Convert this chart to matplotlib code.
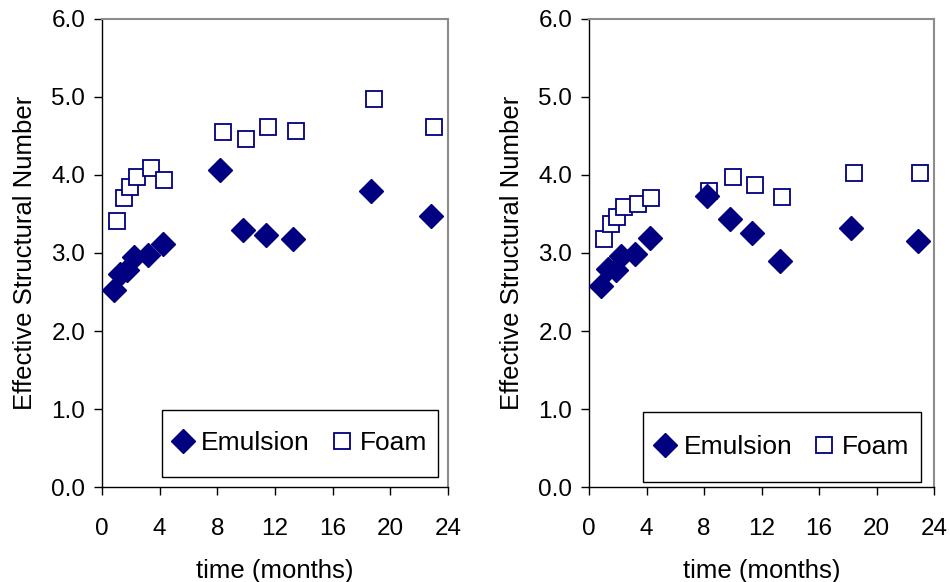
import matplotlib
matplotlib.use("Agg")
import matplotlib.pyplot as plt
from matplotlib.patches import Rectangle

plt.rcParams['font.family'] = ['Liberation Sans', 'DejaVu Sans']

# left panel
left_emul_t = [0.83, 1.25, 1.76, 2.22, 3.17, 4.26, 8.15, 9.8, 11.34, 13.24, 18.68, 22.8]
left_emul_sn = [2.53, 2.73, 2.78, 2.95, 2.97, 3.12, 4.06, 3.29, 3.23, 3.18, 3.79, 3.47]
left_foam_t = [1.02, 1.5, 1.97, 2.45, 3.38, 4.33, 8.36, 10.0, 11.53, 13.43, 18.87, 23.0]
left_foam_sn = [3.41, 3.70, 3.85, 3.98, 4.09, 3.94, 4.55, 4.46, 4.61, 4.57, 4.98, 4.61]

# right panel
right_emul_t = [0.83, 1.32, 1.86, 2.25, 3.2, 4.24, 8.19, 9.83, 11.36, 13.29, 18.25, 22.86]
right_emul_sn = [2.58, 2.80, 2.78, 2.96, 2.99, 3.19, 3.73, 3.43, 3.25, 2.90, 3.32, 3.16]
right_foam_t = [1.02, 1.5, 1.97, 2.46, 3.38, 4.34, 8.37, 10.0, 11.55, 13.45, 18.43, 23.05]
right_foam_sn = [3.18, 3.37, 3.46, 3.59, 3.63, 3.71, 3.80, 3.98, 3.87, 3.72, 4.03, 4.03]

x_ticks = [0, 4, 8, 12, 16, 20, 24]
y_ticks = [0, 1, 2, 3, 4, 5, 6]

navy = '#000080'

fig = plt.figure(figsize=(9.5, 5.82), dpi=100)
ax_l = fig.add_axes([0.1074, 0.1632, 0.3642, 0.8042])
ax_r = fig.add_axes([0.62, 0.1632, 0.3632, 0.8042])


def draw_panel(ax, et, es, ft, fs, box):
    ax.plot(et, es, linestyle='none', marker='D', ms=12, color=navy,
            mec=navy, label='Emulsion', zorder=3)
    ax.plot(ft, fs, linestyle='none', marker='s', ms=11, mfc='white',
            mec=navy, mew=1.3, label='Foam', zorder=2)
    ax.set_xlim(0, 24)
    ax.set_ylim(0, 6)
    ax.set_xticks(x_ticks)
    ax.set_yticks(y_ticks)
    ax.set_yticklabels(['%.1f' % v for v in y_ticks])
    ax.tick_params(direction='out', length=6, width=1, labelsize=17.5, pad=6)
    ax.tick_params(axis='x', pad=16)
    for s in ('top', 'right'):
        ax.spines[s].set_color('#8c8c8c')
        ax.spines[s].set_linewidth(1.5)
    for s in ('left', 'bottom'):
        ax.spines[s].set_linewidth(1)
    ax.set_xlabel('time (months)', fontsize=18.5, labelpad=14)
    ax.set_ylabel('Effective Structural Number', fontsize=18.5, labelpad=10)

    # legend box drawn by hand so its size matches the original
    x0, y0, w, h = box
    ax.add_patch(Rectangle((x0, y0), w, h, transform=ax.transAxes,
                           facecolor='white', edgecolor='black', lw=1, zorder=4))
    leg = ax.legend(loc='center', bbox_to_anchor=(x0 + w / 2, y0 + h / 2), ncol=2,
                    fontsize=19, frameon=False, borderaxespad=0, borderpad=0,
                    handlelength=0.8, handletextpad=0.3, columnspacing=0.8)
    leg.set_zorder(5)


draw_panel(ax_l, left_emul_t, left_emul_sn, left_foam_t, left_foam_sn,
           (0.173, 0.021, 0.798, 0.144))
draw_panel(ax_r, right_emul_t, right_emul_sn, right_foam_t, right_foam_sn,
           (0.157, 0.011, 0.805, 0.149))

fig.savefig('out.png', dpi=100)
